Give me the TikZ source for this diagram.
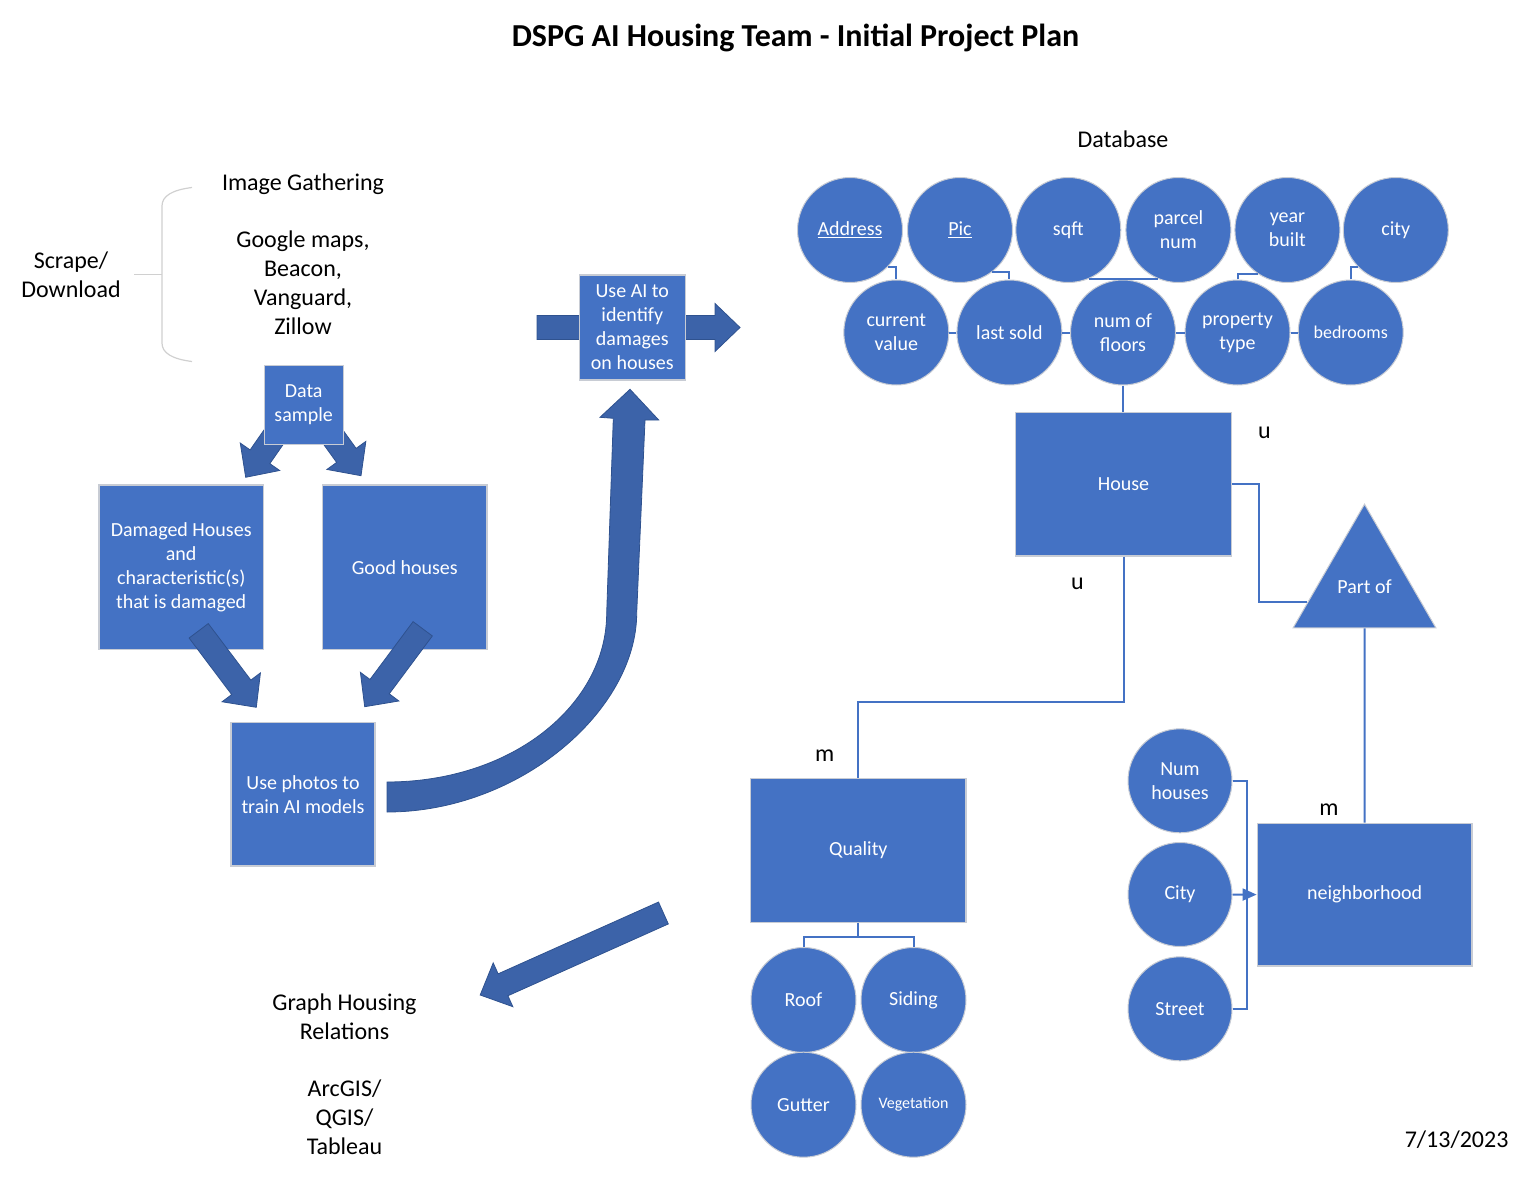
\documentclass[tikz,border=0pt]{standalone}
\usepackage{fontspec}
\setmainfont{Carlito}
\usepackage{tikz}
\usetikzlibrary{arrows.meta,calc,shapes.geometric}
\definecolor{boxblue}{HTML}{4472C4}
\definecolor{boxedge}{HTML}{C8CCD4}
\definecolor{arrowblue}{HTML}{3C63A9}
\definecolor{arrowedge}{HTML}{2F528F}
\definecolor{linkblue}{HTML}{4472C4}
\definecolor{bracegray}{HTML}{D0D0D0}
\tikzset{
  ent/.style={rectangle, fill=boxblue, draw=boxedge, line width=1.2pt, text=white, inner sep=0pt, align=center, font=\fontsize{20}{24}\selectfont},
  attr/.style={circle, fill=boxblue, draw=boxedge, line width=1pt, text=white, minimum size=105pt, inner sep=0pt, align=center, font=\fontsize{20}{24}\selectfont},
  lbl/.style={align=center, font=\fontsize{24}{28.8}\selectfont},
  link/.style={draw=linkblue, line width=2pt},
  blockarr/.style={fill=arrowblue, draw=arrowedge, line width=0.8pt},
  brace/.style={draw=bracegray, line width=1.2pt}
}
\newcommand{\BlockArrow}[2]{% tail, tip
  \filldraw[blockarr] ($(#1)!12pt!90:(#2)$) -- ($(#2)!25pt!(#1)!12pt!-90:(#1)$)
    -- ($(#2)!25pt!(#1)!24pt!-90:(#1)$) -- (#2)
    -- ($(#2)!25pt!(#1)!24pt!90:(#1)$) -- ($(#2)!25pt!(#1)!12pt!90:(#1)$)
    -- ($(#1)!12pt!-90:(#2)$) -- cycle;
}

\begin{document}
\begin{tikzpicture}[x=1pt, y=-1pt]
  \useasboundingbox (0,0) rectangle (1534,1182);
  \node[font=\bfseries\fontsize{32}{38}\selectfont] (title) at (795.5,38) {DSPG AI Housing Team - Initial Project Plan};

  % image gathering
  \node[lbl] (scrape) at (71,274.5) {Scrape/\\Download};
  \node[lbl] (gather) at (303,254) {Image Gathering\\[28.8pt]Google maps,\\Beacon,\\Vanguard,\\Zillow};
  \draw[brace] (192,187.5) .. controls (172,190) and (162,196) .. (162,206) -- (162,343)
    .. controls (162,353) and (172,359) .. (192,361.5);
  \draw[brace] (134,274.3) -- (162,274.3);

  % data sample splits into two sets
  \coordinate (splitL) at (280,428);   \coordinate (splitLtip) at (245.7,477.3);
  \coordinate (splitR) at (325.9,427); \coordinate (splitRtip) at (361,475.7);
  \BlockArrow{splitL}{splitLtip}
  \BlockArrow{splitR}{splitRtip}
  \node[ent, minimum width=79pt, minimum height=78.6pt] (sample) at (303.7,405) {Data\\sample};
  \node[ent, minimum width=164.5pt, minimum height=164.3pt] (damaged) at (181.2,567.2) {Damaged Houses\\and\\characteristic(s)\\that is damaged};
  \node[ent, minimum width=164.5pt, minimum height=164.3pt] (good) at (404.8,567.2) {Good houses};
  \node[ent, minimum width=144pt, minimum height=143.3pt] (photos) at (303,794.3) {Use photos to\\train AI models};
  \coordinate (trainL) at (198.7,630.8); \coordinate (trainLtip) at (256.3,707.3);
  \coordinate (trainR) at (422.7,628.8); \coordinate (trainRtip) at (364.7,706.7);
  \BlockArrow{trainL}{trainLtip}
  \BlockArrow{trainR}{trainRtip}

  % curved arrow up to the AI step
  \filldraw[blockarr] (387,782) .. controls (512,782) and (606.7,705) .. (606.7,613)
    -- (613.3,418.3) -- (600,417.3) -- (630,389.3) -- (658.7,420) -- (645,420) -- (636.7,613)
    .. controls (636.7,710) and (520,812) .. (387,812) -- cycle;
  \coordinate (aiL) at (537,327.5); \coordinate (aiR) at (740,327.5);
  \BlockArrow{aiL}{aiR}
  \node[ent, minimum width=106pt, minimum height=105pt] (useai) at (632.3,327.5) {Use AI to\\identify\\damages\\on houses};

  % graphing
  \coordinate (graphT) at (663.4,913); \coordinate (graphTip) at (480.2,995);
  \BlockArrow{graphT}{graphTip}
  \node[lbl] (graph) at (344.5,1074) {Graph Housing\\Relations\\[28.8pt]ArcGIS/\\QGIS/\\Tableau};

  % database
  \node[lbl] (db) at (1123,139) {Database};
  \node[attr] (addr) at (850,230) {\underline{Address}};
  \node[attr] (pic) at (960,230) {\underline{Pic}};
  \node[attr] (sqft) at (1068.3,230) {sqft};
  \node[attr] (parcel) at (1178.4,230) {parcel\\num};
  \node[attr] (yb) at (1287.4,230) {year\\built};
  \node[attr] (city) at (1395.8,230) {city};
  \node[attr] (cv) at (896.3,332.5) {current\\value};
  \node[attr] (ls) at (1009.4,332.5) {last sold};
  \node[attr] (nf) at (1123,332.5) {num of\\floors};
  \node[attr] (pt) at (1237.5,332.5) {property\\type};
  \node[attr, font=\fontsize{18}{22}\selectfont] (bed) at (1350.7,332.5) {bedrooms};
  \draw[link] (addr.-44) -| (cv.north);
  \draw[link] (pic.-53) -| (ls.north);
  \draw[link] (sqft.-67) -- (parcel.-113);
  \draw[link] (nf.north) -- (nf.north |- sqft.-67);
  \draw[link] (yb.-124) -| (pt.north);
  \draw[link] (city.-136) -| (bed.north);
  \draw[link] (cv.east) -- (ls.west);
  \draw[link] (ls.east) -- (nf.west);
  \draw[link] (nf.east) -- (pt.west);
  \draw[link] (pt.east) -- (bed.west);

  \node[ent, minimum width=215.6pt, minimum height=143.3pt] (house) at (1123.5,484.3) {House};
  \draw[link] (nf.south) -- (nf.south |- house.north);
  \node[regular polygon, regular polygon sides=3, minimum size=165pt, inner sep=0pt, fill=boxblue, draw=boxedge, line width=1pt, text=white, font=\fontsize{20}{24}\selectfont] (partof) at (1364.5,586.7) {Part of};
  \draw[link] (house.east) -- ++(27,0) |- (partof.195);
  \node[lbl] (u1) at (1264.3,432.7) {u};
  \node[lbl] (u2) at (1077.3,584.3) {u};

  % quality
  \node[ent, minimum width=215.2pt, minimum height=143.6pt] (quality) at (858.3,850.5) {Quality};
  \draw[link] (house.south) -- ++(0,145) -| (quality.north);
  \node[lbl] (m1) at (824.8,756) {m};
  \node[attr] (roof) at (803.5,1000) {Roof};
  \node[attr] (siding) at (913.5,1000) {Siding};
  \node[attr] (gutter) at (803.5,1104.7) {Gutter};
  \node[attr, font=\fontsize{16}{19}\selectfont] (veg) at (913.5,1104.7) {Vegetation};
  \draw[link] (quality.south) -- ++(0,13.7) coordinate (qfork);
  \draw[link] (roof.north) |- (qfork) -| (siding.north);

  % neighborhood
  \node[ent, minimum width=214.8pt, minimum height=142.7pt] (nbhd) at (1364.6,894.6) {neighborhood};
  \draw[link] (partof.south) -- (nbhd.north);
  \node[lbl] (m2) at (1329,810) {m};
  \node[attr, minimum size=104pt] (numh) at (1180,780.8) {Num\\houses};
  \node[attr, minimum size=104pt] (city2) at (1180,894.5) {City};
  \node[attr, minimum size=104pt] (street) at (1180,1008.8) {Street};
  \draw[link] (numh.east) -- ++(14.5,0) |- (street.east);
  \draw[link, -{Triangle[length=14pt, width=12pt]}] (city2.east) -- (nbhd.west);

  \node[lbl, anchor=east] (date) at (1512,1140) {7/13/2023};
\end{tikzpicture}
\end{document}
